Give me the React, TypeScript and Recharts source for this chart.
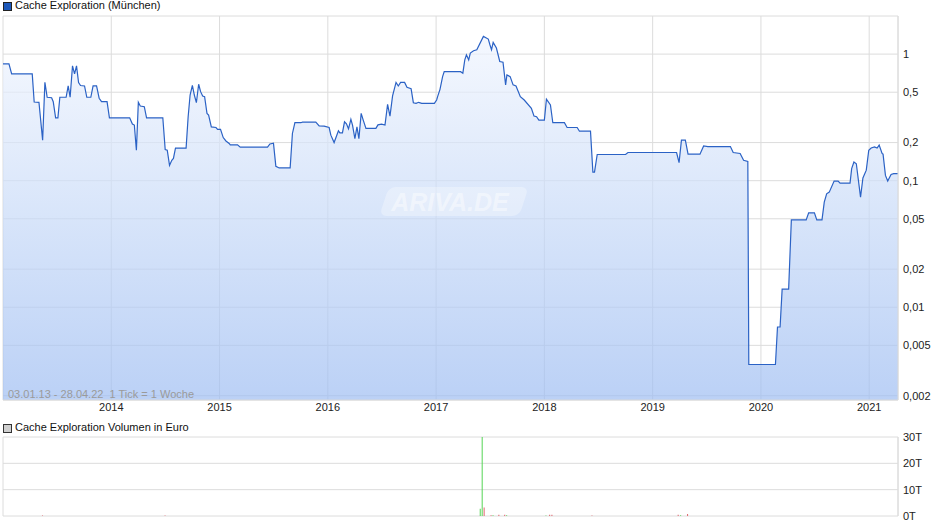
import React from 'react';
import { ComposedChart, Area, Bar, Cell, XAxis, YAxis, CartesianGrid } from 'recharts';

// ---- Price series (decimal year, EUR) ----
const priceDates = [
  2013.000, 2013.055, 2013.080, 2013.270, 2013.288, 2013.332, 2013.366, 2013.387, 2013.408, 2013.449,
  2013.464, 2013.486, 2013.507, 2013.525, 2013.583, 2013.602, 2013.620, 2013.642, 2013.661, 2013.679,
  2013.698, 2013.716, 2013.753, 2013.774, 2013.811, 2013.832, 2013.864, 2013.888, 2013.910, 2013.961,
  2013.983, 2014.170, 2014.195, 2014.213, 2014.232, 2014.250, 2014.268, 2014.305, 2014.326, 2014.476,
  2014.498, 2014.517, 2014.538, 2014.559, 2014.574, 2014.593, 2014.691, 2014.710, 2014.728, 2014.749,
  2014.767, 2014.786, 2014.807, 2014.825, 2014.844, 2014.862, 2014.884, 2014.899, 2014.924, 2014.967,
  2014.982, 2015.009, 2015.034, 2015.059, 2015.089, 2015.099, 2015.166, 2015.191, 2015.443, 2015.465,
  2015.498, 2015.520, 2015.551, 2015.652, 2015.673, 2015.696, 2015.751, 2015.766, 2015.889, 2015.920,
  2015.966, 2016.012, 2016.028, 2016.058, 2016.098, 2016.111, 2016.135, 2016.154, 2016.172, 2016.191,
  2016.213, 2016.228, 2016.250, 2016.269, 2016.287, 2016.308, 2016.327, 2016.352, 2016.444, 2016.463,
  2016.496, 2016.528, 2016.552, 2016.574, 2016.598, 2016.630, 2016.651, 2016.672, 2016.709, 2016.731,
  2016.769, 2016.790, 2016.815, 2016.839, 2016.867, 2016.984, 2017.005, 2017.014, 2017.036, 2017.060,
  2017.075, 2017.226, 2017.247, 2017.265, 2017.280, 2017.301, 2017.316, 2017.346, 2017.376, 2017.437,
  2017.482, 2017.497, 2017.512, 2017.527, 2017.557, 2017.588, 2017.618, 2017.642, 2017.654, 2017.684,
  2017.711, 2017.738, 2017.778, 2017.814, 2017.880, 2017.904, 2017.928, 2017.949, 2018.000, 2018.019,
  2018.056, 2018.078, 2018.185, 2018.210, 2018.303, 2018.324, 2018.426, 2018.448, 2018.463, 2018.488,
  2018.750, 2018.772, 2019.221, 2019.244, 2019.266, 2019.302, 2019.327, 2019.437, 2019.471, 2019.510,
  2019.718, 2019.744, 2019.808, 2019.840, 2019.879, 2019.888, 2019.904, 2020.134, 2020.153, 2020.177,
  2020.196, 2020.256, 2020.281, 2020.418, 2020.441, 2020.494, 2020.516, 2020.564, 2020.585, 2020.607,
  2020.631, 2020.676, 2020.713, 2020.731, 2020.823, 2020.838, 2020.859, 2020.881, 2020.920, 2020.942,
  2020.973, 2020.996, 2021.018, 2021.049, 2021.073, 2021.092, 2021.119, 2021.128, 2021.150, 2021.171,
  2021.202, 2021.226, 2021.266,
];
const priceValues = [
  0.838, 0.838, 0.698, 0.698, 0.418, 0.416, 0.209, 0.599, 0.456, 0.452,
  0.421, 0.314, 0.314, 0.456, 0.456, 0.560, 0.456, 0.808, 0.698, 0.808,
  0.597, 0.565, 0.560, 0.456, 0.456, 0.560, 0.560, 0.448, 0.421, 0.421,
  0.314, 0.314, 0.280, 0.275, 0.174, 0.416, 0.389, 0.384, 0.314, 0.314,
  0.176, 0.174, 0.132, 0.145, 0.150, 0.181, 0.181, 0.320, 0.475, 0.567,
  0.475, 0.413, 0.578, 0.505, 0.467, 0.461, 0.340, 0.330, 0.266, 0.263,
  0.254, 0.254, 0.219, 0.206, 0.197, 0.192, 0.192, 0.184, 0.184, 0.195,
  0.198, 0.130, 0.126, 0.126, 0.236, 0.287, 0.287, 0.290, 0.290, 0.271,
  0.270, 0.263, 0.229, 0.200, 0.248, 0.239, 0.239, 0.292, 0.281, 0.257,
  0.305, 0.275, 0.215, 0.266, 0.215, 0.340, 0.301, 0.259, 0.259, 0.276,
  0.280, 0.275, 0.401, 0.324, 0.467, 0.597, 0.560, 0.597, 0.597, 0.547,
  0.533, 0.413, 0.408, 0.416, 0.408, 0.408, 0.434, 0.461, 0.527, 0.664,
  0.727, 0.727, 0.707, 0.901, 0.987, 0.901, 1.018, 1.062, 1.082, 1.380,
  1.315, 1.185, 1.082, 1.236, 1.116, 0.874, 0.864, 0.571, 0.685, 0.664,
  0.571, 0.560, 0.461, 0.434, 0.373, 0.324, 0.320, 0.301, 0.301, 0.440,
  0.396, 0.287, 0.287, 0.263, 0.263, 0.246, 0.246, 0.117, 0.117, 0.161,
  0.161, 0.167, 0.167, 0.139, 0.209, 0.209, 0.162, 0.162, 0.188, 0.186,
  0.186, 0.167, 0.164, 0.145, 0.142, 0.00353, 0.00353, 0.00353, 0.00698, 0.00698,
  0.0139, 0.0139, 0.049, 0.049, 0.0557, 0.0557, 0.049, 0.049, 0.0677, 0.0788,
  0.0812, 0.0993, 0.0993, 0.0957, 0.0957, 0.1245, 0.1405, 0.136, 0.0741, 0.105,
  0.121, 0.174, 0.181, 0.185, 0.181, 0.191, 0.164, 0.162, 0.110, 0.0993,
  0.112, 0.1137, 0.1137,
];

// ---- Volume series (decimal year, EUR) ----
const volDates = [
  2013.369, 2014.501, 2017.412, 2017.430, 2017.448, 2017.512, 2017.530, 2017.584, 2017.638, 2017.656,
  2018.019, 2018.053, 2018.074, 2018.444, 2019.240, 2019.263, 2019.327,
];
const volValues = [
  150, 150, 2800, 30000, 3200, 300, 250, 500, 500, 250,
  200, 500, 500, 200, 500, 250, 800,
];
const volDirection = [
  'down', 'down', 'up', 'up', 'down', 'down', 'up', 'down', 'down', 'up',
  'up', 'down', 'down', 'down', 'down', 'up', 'down',
];

// ---- Axes ----
const xStart = 2013.0;
const xEnd = 2021.266;
const yearTicks = [2014, 2015, 2016, 2017, 2018, 2019, 2020, 2021];
const priceTicks = [0.002, 0.005, 0.01, 0.02, 0.05, 0.1, 0.2, 0.5, 1, 2];
const priceMin = 0.00185;
const priceMax = 2;
const volTicks = [0, 10000, 20000, 30000];

const priceData = priceDates.map((t, i) => ({ t, price: priceValues[i] }));
const volData = volDates.map((t, i) => ({ t, vol: volValues[i], dir: volDirection[i] }));

const FONT = '"Liberation Sans", Arial, sans-serif';
const GRID = '#dcdcdc';
const xTickList = [xStart, ...yearTicks, xEnd];
const fmtYear = (v: number) => (yearTicks.includes(v) ? String(v) : '');
const fmtPrice = (v: number) => (v >= priceMax ? '' : String(v).replace('.', ','));
const fmtVol = (v: number) => `${v / 1000}T`;
const tickStyle = { fontSize: 11, fill: '#222', fontFamily: FONT };

export default function App() {
  return (
    <div style={{ position: 'absolute', left: 0, top: 0, width: 940, height: 526, background: '#fff', fontFamily: FONT, overflow: 'hidden' }}>
      {/* legend 1 */}
      <div style={{ position: 'absolute', left: 3, top: 2, width: 7, height: 7, background: '#1d58b9', border: '1px solid #222' }} />
      <div style={{ position: 'absolute', left: 15, top: -1, fontSize: 11, lineHeight: '13px', color: '#111' }}>Cache Exploration (München)</div>

      <div style={{ position: 'absolute', left: 0, top: 0 }}>
        <ComposedChart width={940} height={416} data={priceData} margin={{ top: 16, right: 0, left: 3, bottom: 0 }}>
          <defs>
            <linearGradient id="priceFill" x1="0" y1="16" x2="0" y2="400" gradientUnits="userSpaceOnUse">
              <stop offset="0%" stopColor="#f5f8ff" stopOpacity={0.7} />
              <stop offset="50%" stopColor="#c9dbf8" stopOpacity={0.7} />
              <stop offset="100%" stopColor="#9ebdf2" stopOpacity={0.7} />
            </linearGradient>
          </defs>
          <CartesianGrid stroke={GRID} />
          <XAxis
            dataKey="t"
            type="number"
            domain={[xStart, xEnd]}
            allowDataOverflow
            ticks={xTickList}
            interval={0}
            tickFormatter={fmtYear}
            height={16}
            tickSize={0}
            tickMargin={3}
            tickLine={false}
            axisLine={{ stroke: GRID }}
            tick={tickStyle}
          />
          <YAxis
            orientation="right"
            scale="log"
            domain={[priceMin, priceMax]}
            allowDataOverflow
            ticks={priceTicks}
            interval={0}
            tickFormatter={fmtPrice}
            width={42}
            tickSize={0}
            tickMargin={5}
            tickLine={false}
            axisLine={{ stroke: GRID }}
            tick={tickStyle}
          />
          <Area
            type="linear"
            dataKey="price"
            stroke="#2b62c5"
            strokeWidth={1.2}
            fill="url(#priceFill)"
            fillOpacity={1}
            baseValue="dataMin"
            dot={false}
            activeDot={false}
            isAnimationActive={false}
          />
        </ComposedChart>
      </div>

      {/* watermark */}
      <svg style={{ position: 'absolute', left: 370, top: 183, pointerEvents: 'none' }} width={170} height={40}>
        <g transform="skewX(-18)">
          <rect x={20} y={4} width={140} height={29} rx={7} fill="#ffffff" fillOpacity={0.3} />
        </g>
        <text x={80} y={28} textAnchor="middle" fontFamily={FONT} fontStyle="italic" fontWeight="bold" fontSize={25} fill="#ffffff" fillOpacity={0.45}>ARIVA.DE</text>
      </svg>

      {/* info text */}
      <div style={{ position: 'absolute', left: 8, top: 388, fontSize: 11, lineHeight: '13px', color: '#9a9a9a', whiteSpace: 'pre' }}>03.01.13 - 28.04.22  1 Tick = 1 Woche</div>

      {/* legend 2 */}
      <div style={{ position: 'absolute', left: 3, top: 424, width: 7, height: 7, background: '#cfcfcf', border: '1px solid #333' }} />
      <div style={{ position: 'absolute', left: 15, top: 421, fontSize: 11, lineHeight: '13px', color: '#111' }}>Cache Exploration Volumen in Euro</div>

      <div style={{ position: 'absolute', left: 0, top: 421 }}>
        <ComposedChart width={940} height={105} data={volData} margin={{ top: 16, right: 0, left: 3, bottom: 9 }}>
          <CartesianGrid stroke={GRID} />
          <XAxis
            dataKey="t"
            type="number"
            domain={[xStart, xEnd]}
            allowDataOverflow
            ticks={xTickList}
            interval={0}
            height={1}
            tick={false}
            tickLine={false}
            axisLine={false}
          />
          <YAxis
            orientation="right"
            domain={[0, 30000]}
            allowDataOverflow
            ticks={volTicks}
            interval={0}
            tickFormatter={fmtVol}
            width={42}
            tickSize={0}
            tickMargin={5}
            tickLine={false}
            axisLine={{ stroke: GRID }}
            tick={tickStyle}
          />
          <Bar dataKey="vol" barSize={1} isAnimationActive={false}>
            {volData.map((d, i) => (
              <Cell key={i} fill={d.dir === 'up' ? '#55d455' : '#e0636b'} />
            ))}
          </Bar>
        </ComposedChart>
      </div>
    </div>
  );
}
